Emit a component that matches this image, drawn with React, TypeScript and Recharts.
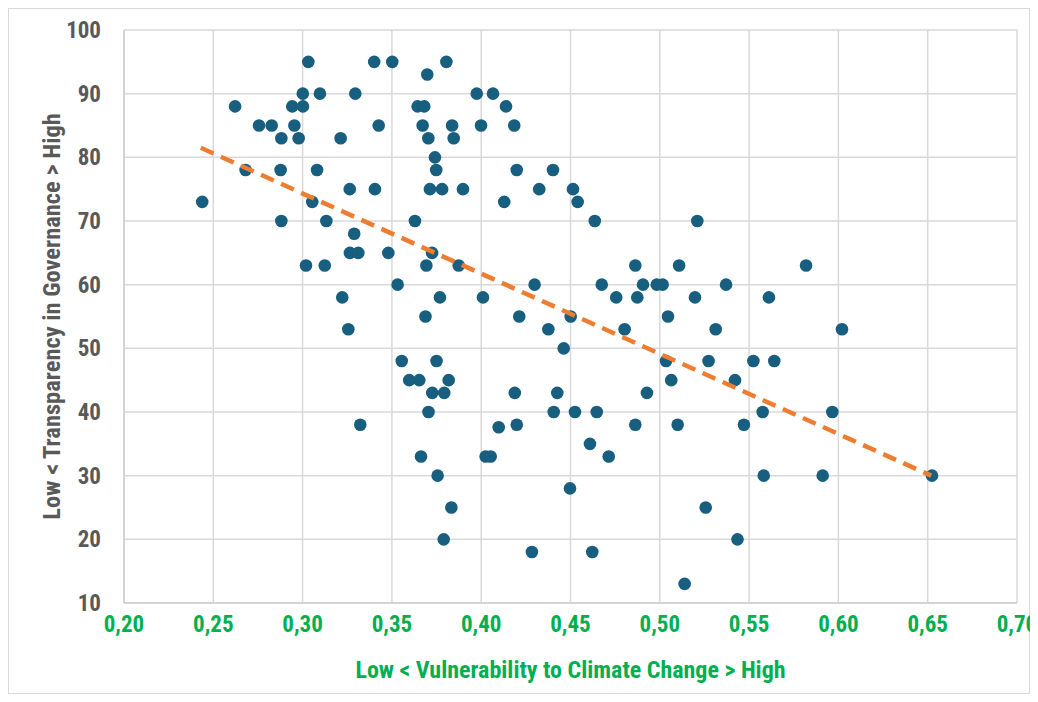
import React from 'react';
import {
  ScatterChart,
  Scatter,
  XAxis,
  YAxis,
  CartesianGrid,
} from 'recharts';

// Vulnerability to climate change (x) and transparency in governance (y)
const vulnerability = [
  0.2438, 0.2622, 0.2681, 0.2756, 0.2827, 0.2881, 0.2877, 0.2881, 0.2942, 0.2954,
  0.2978, 0.3001, 0.3002, 0.3032, 0.3019, 0.3054, 0.3081, 0.3097, 0.3133, 0.3124,
  0.3213, 0.3222, 0.3264, 0.3265, 0.3256, 0.3295, 0.3289, 0.3312, 0.3323, 0.3401,
  0.3405, 0.3426, 0.3502, 0.348, 0.3532, 0.3555, 0.3597, 0.3629, 0.3644, 0.3653,
  0.3672, 0.3681, 0.3663, 0.3693, 0.3688, 0.3698, 0.3704, 0.3705, 0.3713, 0.3725,
  0.3726, 0.3741, 0.3748, 0.375, 0.3756, 0.3769, 0.3781, 0.3793, 0.3805, 0.379,
  0.3818, 0.3833, 0.3837, 0.3846, 0.3874, 0.3898, 0.3975, 0.3999, 0.401, 0.4025,
  0.4053, 0.4066, 0.4098, 0.4129, 0.4139, 0.4185, 0.4188, 0.4199, 0.4199, 0.4213,
  0.4284, 0.4299, 0.4325, 0.4376, 0.4402, 0.4406, 0.4426, 0.4462, 0.4497, 0.4501,
  0.4514, 0.4525, 0.454, 0.4609, 0.4622, 0.4636, 0.4647, 0.4675, 0.4714, 0.4756,
  0.4803, 0.4863, 0.4863, 0.4874, 0.4906, 0.4928, 0.4983, 0.5016, 0.5035, 0.5046,
  0.5064, 0.5108, 0.51, 0.5139, 0.5197, 0.521, 0.5257, 0.5273, 0.5313, 0.5371,
  0.5421, 0.5435, 0.5471, 0.5524, 0.5576, 0.5582, 0.5611, 0.5641, 0.5819, 0.5912,
  0.5966, 0.602, 0.6524,
];

const transparency = [
  73, 88, 78, 85, 85, 83, 78, 70, 88, 85,
  83, 90, 88, 95, 63, 73, 78, 90, 70, 63,
  83, 58, 75, 65, 53, 90, 68, 65, 38, 95,
  75, 85, 95, 65, 60, 48, 45, 70, 88, 45,
  85, 88, 33, 63, 55, 93, 83, 40, 75, 65,
  43, 80, 78, 48, 30, 58, 75, 43, 95, 20,
  45, 25, 85, 83, 63, 75, 90, 85, 58, 33,
  33, 90, 37.6, 73, 88, 85, 43, 38, 78, 55,
  18, 60, 75, 53, 78, 40, 43, 50, 28, 55,
  75, 40, 73, 35, 18, 70, 40, 60, 33, 58,
  53, 63, 38, 58, 60, 43, 60, 60, 48, 55,
  45, 63, 38, 13, 58, 70, 25, 48, 53, 60,
  45, 20, 38, 48, 40, 30, 58, 48, 63, 30,
  40, 53, 30,
];

// Linear trend line end points
const trendX = [0.243, 0.652];
const trendY = [81.5, 30];

const xTicks = [0.2, 0.25, 0.3, 0.35, 0.4, 0.45, 0.5, 0.55, 0.6, 0.65, 0.7];
const yTicks = [10, 20, 30, 40, 50, 60, 70, 80, 90, 100];

const points = vulnerability.map((x, i) => ({ x, y: transparency[i] }));
const trend = trendX.map((x, i) => ({ x, y: trendY[i] }));

const FONT = '"Liberation Sans Narrow", "Arial Narrow", "Roboto Condensed", "DejaVu Sans Condensed", Arial, sans-serif';
const GREEN = '#00B050';
const GREY_TEXT = '#595959';
const DOT = '#175E7F';
const ORANGE = '#ED7D31';
const GRID = '#D9D9D9';

const Dot = (props: any) => {
  const { cx, cy } = props;
  if (cx == null || cy == null) return null;
  return <circle cx={cx} cy={cy} r={6.3} fill={DOT} />;
};

const NoDot = () => null;

const XTitle = (props: any) => {
  const { viewBox } = props;
  const cx = viewBox.x + viewBox.width / 2;
  return (
    <text
      x={cx}
      y={viewBox.y + 75}
      textAnchor="middle"
      fill={GREEN}
      fontFamily={FONT}
      fontWeight="bold"
      fontSize={24}
    >
      Low &lt; Vulnerability to Climate Change &gt; High
    </text>
  );
};

const YTitle = (props: any) => {
  const { viewBox } = props;
  const cx = 42;
  const cy = viewBox.y + viewBox.height / 2;
  return (
    <text
      x={cx}
      y={cy}
      transform={`rotate(-90 ${cx} ${cy})`}
      textAnchor="middle"
      dominantBaseline="central"
      fill={GREY_TEXT}
      fontFamily={FONT}
      fontWeight="bold"
      fontSize={24.5}
    >
      Low &lt; Transparency in Governance &gt; High
    </text>
  );
};

export default function App() {
  return (
    <div style={{ position: 'relative', width: 1030, height: 686, background: '#fff' }}>
      <div
        style={{
          position: 'absolute',
          left: 0,
          top: 0,
          width: 1020,
          height: 684,
          border: '1px solid #D9D9D9',
        }}
      />
      <div style={{ position: 'absolute', left: 1, top: 1 }}>
        <ScatterChart
          width={1029}
          height={684}
          margin={{ top: 21, right: 21, left: 0, bottom: 50 }}
        >
          <CartesianGrid stroke={GRID} strokeWidth={1.5} />
          <XAxis
            type="number"
            dataKey="x"
            domain={[0.2, 0.7]}
            ticks={xTicks}
            interval={0}
            height={40}
            tickLine={false}
            tickSize={0}
            tickMargin={13}
            axisLine={{ stroke: '#CFCFCF', strokeWidth: 1.5 }}
            tick={{ fill: GREEN, fontSize: 23, fontWeight: 'bold', fontFamily: FONT }}
            tickFormatter={(v: number) => v.toFixed(2).replace('.', ',')}
            label={<XTitle />}
          />
          <YAxis
            type="number"
            dataKey="y"
            domain={[10, 100]}
            ticks={yTicks}
            interval={0}
            width={115}
            tickLine={false}
            tickSize={0}
            tickMargin={23}
            axisLine={{ stroke: '#CFCFCF', strokeWidth: 1.5 }}
            tick={{ fill: GREY_TEXT, fontSize: 23, fontWeight: 'bold', fontFamily: FONT }}
            label={<YTitle />}
          />
          <Scatter data={points} shape={<Dot />} isAnimationActive={false} />
          <Scatter
            data={trend}
            shape={<NoDot />}
            line={{ stroke: ORANGE, strokeWidth: 4.5, strokeDasharray: '14 8' }}
            isAnimationActive={false}
          />
        </ScatterChart>
      </div>
    </div>
  );
}
